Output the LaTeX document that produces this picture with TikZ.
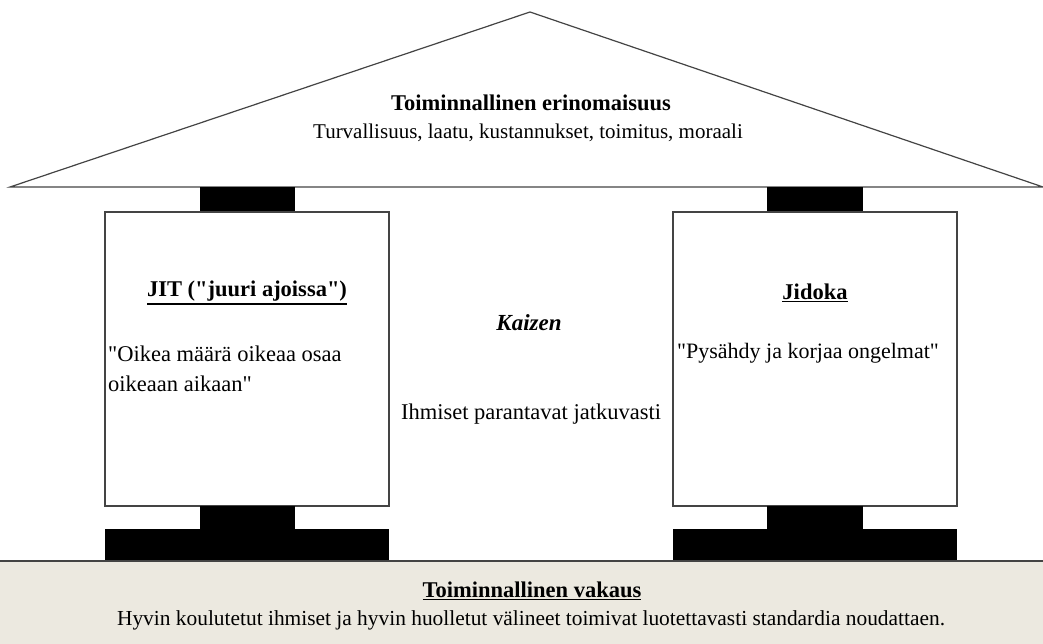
\documentclass[tikz,border=0pt]{standalone}
\usepackage{fontspec}
\setmainfont{Liberation Serif}[Ligatures=TeXOff]
\definecolor{basefill}{HTML}{ECE9E0}
\definecolor{edge}{HTML}{444444}
\newcommand{\myul}[1]{\vtop{\hbox{#1}\kern1.3pt\hrule height 1.8pt}}
\begin{document}
\begin{tikzpicture}[x=1pt,y=-1pt,
  txt/.style={inner sep=0pt,font=\fontsize{21}{30}\selectfont},
  bigtxt/.style={inner sep=0pt,font=\fontsize{22.5}{30}\selectfont},
  ttl/.style={inner sep=0pt,font=\fontsize{22.5}{30}\selectfont\bfseries},
  outline/.style={draw=edge,line width=1.2pt},
  block/.style={fill=black}]
\useasboundingbox (0,0) rectangle (1043,644);
% roof
\draw[outline,fill=white] (10,187) -- (530,12) -- (1043,187) -- cycle;
% top blocks
\fill[block] (200,187) rectangle (295,212);
\fill[block] (767,187) rectangle (863,212);
% pillars
\draw[outline,fill=white] (105,212) rectangle (389,506);
\draw[outline,fill=white] (673,212) rectangle (957,506);
% bottom blocks
\fill[block] (200,506) rectangle (295,530);
\fill[block] (105,529) rectangle (389,561);
\fill[block] (767,506) rectangle (863,530);
\fill[block] (673,529) rectangle (957,561);
% foundation
\draw[draw=edge,line width=1.2pt,fill=basefill] (-2,561) rectangle (1045,646);
% texts
\node[ttl] (roofTitle) at (531,103) {Toiminnallinen erinomaisuus};
\node[txt] (roofSub) at (528,133) {Turvallisuus, laatu, kustannukset, toimitus, moraali};
\node[ttl] (jitTitle) at (247,293) {\myul{JIT ("juuri ajoissa")}};
\node[bigtxt,anchor=north west,align=left] (jitText) at (108,346) {"Oikea määrä oikeaa osaa\\oikeaan aikaan"};
\node[ttl,font=\fontsize{23}{30}\selectfont\bfseries\itshape] (kaizen) at (529,323) {Kaizen};
\node[bigtxt] (ihmiset) at (531,414) {Ihmiset parantavat jatkuvasti};
\node[ttl] (jidokaTitle) at (815,293) {\myul{Jidoka}};
\node[txt,font=\fontsize{22}{30}\selectfont] (jidokaText) at (808,353) {"Pysähdy ja korjaa ongelmat"};
\node[ttl] (foundTitle) at (532,591) {\myul{Toiminnallinen vakaus}};
\node[txt,font=\fontsize{21.4}{30}\selectfont] (foundText) at (531,620) {Hyvin koulutetut ihmiset ja hyvin huolletut välineet toimivat luotettavasti standardia noudattaen.};
\end{tikzpicture}
\end{document}
